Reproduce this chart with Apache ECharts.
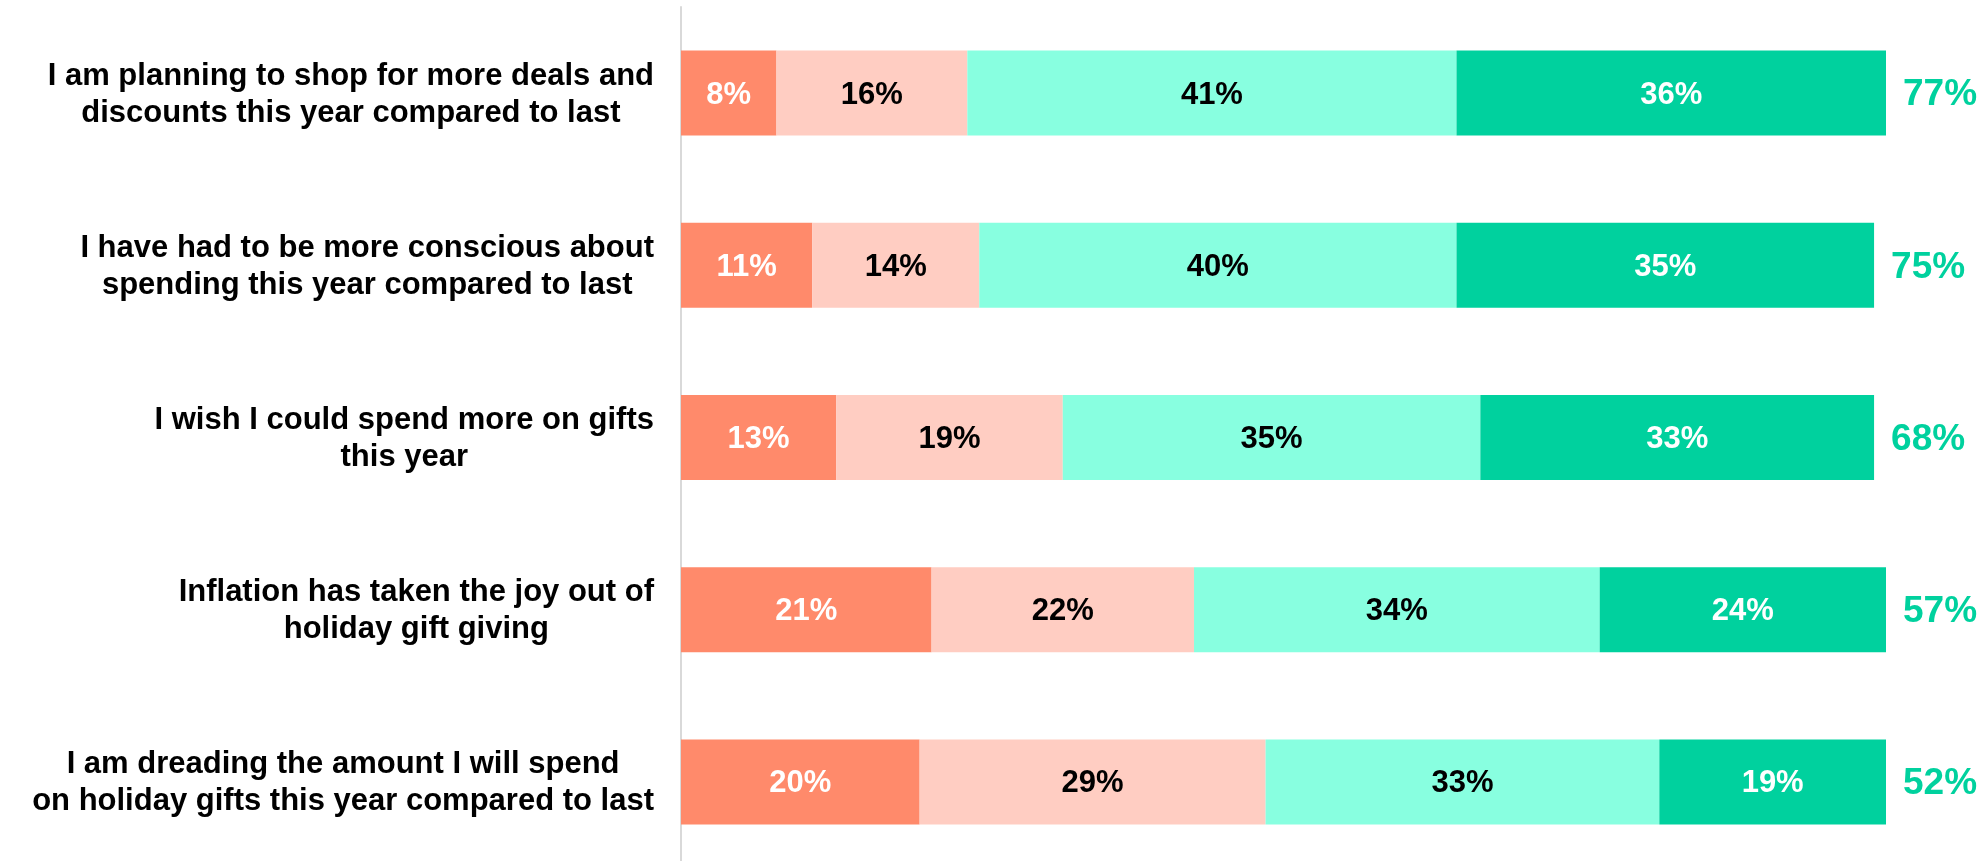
<!DOCTYPE html>
<html lang="en">
  <head>
    <meta charset="UTF-8" />
    <title>Holiday spending attitudes</title>
    <style>
      html, body {
        margin: 0;
        padding: 0;
        background: #fff;
        overflow: hidden;
      }
      #main {
        width: 1988px;
        height: 870px;
      }
    </style>
    <script src="https://cdn.jsdelivr.net/npm/echarts@6/dist/echarts.min.js"></script>
  </head>
  <body>
    <div id="main"></div>
    <script>
      // statements, top to bottom
      const categories = [
        'I am planning to shop for more deals and\ndiscounts this year compared to last',
        'I have had to be more conscious about\nspending this year compared to last',
        'I wish I could spend more on gifts\nthis year',
        'Inflation has taken the joy out of\nholiday gift giving',
        'I am dreading the amount I will spend\non holiday gifts this year compared to last'
      ]
      // agreement scale, strongly disagree -> strongly agree
      const stronglyDisagree = [8, 11, 13, 21, 20]
      const somewhatDisagree = [16, 14, 19, 22, 29]
      const somewhatAgree = [41, 40, 35, 34, 33]
      const stronglyAgree = [36, 35, 33, 24, 19]
      // net agree shown at the end of each bar
      const totalAgree = [77, 75, 68, 57, 52]

      const font = 'Arial, "Liberation Sans", sans-serif'

      function segment(name, data, color, textColor) {
        return {
          name: name,
          type: 'bar',
          stack: 'all',
          data: data,
          barWidth: 85,
          itemStyle: { color: color },
          label: {
            show: true,
            position: 'inside',
            offset: [0, 2],
            formatter: p => p.value + '%',
            color: textColor,
            fontFamily: font,
            fontWeight: 'bold',
            fontSize: 31
          }
        }
      }

      // the div is a few px taller than the window so the last band keeps its size
      const chart = echarts.init(document.getElementById('main'))

      chart.setOption({
        animation: false,
        grid: { left: 681, right: 102, top: 7, height: 861 },
        xAxis: {
          type: 'value',
          min: 0,
          max: 101,
          show: false
        },
        yAxis: {
          type: 'category',
          inverse: true,
          data: categories,
          axisLine: { show: true, lineStyle: { color: '#d9d9d9', width: 2 } },
          axisTick: { show: false },
          axisLabel: {
            margin: 27,
            formatter: v => v.split('\n').map(l => '{c|' + l + '}').join('\n'),
            rich: {
              c: {
                align: 'center',
                fontFamily: font,
                fontWeight: 'bold',
                fontSize: 31,
                lineHeight: 37,
                padding: [3, 0, 0, 0],
                color: '#000'
              }
            }
          }
        },
        series: [
          segment('Strongly disagree', stronglyDisagree, '#ff8a6b', '#fff'),
          segment('Somewhat disagree', somewhatDisagree, '#ffcdc2', '#000'),
          segment('Somewhat agree', somewhatAgree, '#88ffe0', '#000'),
          segment('Strongly agree', stronglyAgree, '#00d19e', '#fff'),
          {
            name: 'Total agree',
            type: 'bar',
            stack: 'all',
            data: totalAgree.map(() => 0),
            barWidth: 85,
            itemStyle: { color: 'transparent' },
            label: {
              show: true,
              position: 'right',
              distance: 17,
              offset: [0, 2],
              formatter: p => totalAgree[p.dataIndex] + '%',
              color: '#00d19e',
              fontFamily: font,
              fontWeight: 'bold',
              fontSize: 37
            }
          }
        ]
      })
    </script>
  </body>
</html>
